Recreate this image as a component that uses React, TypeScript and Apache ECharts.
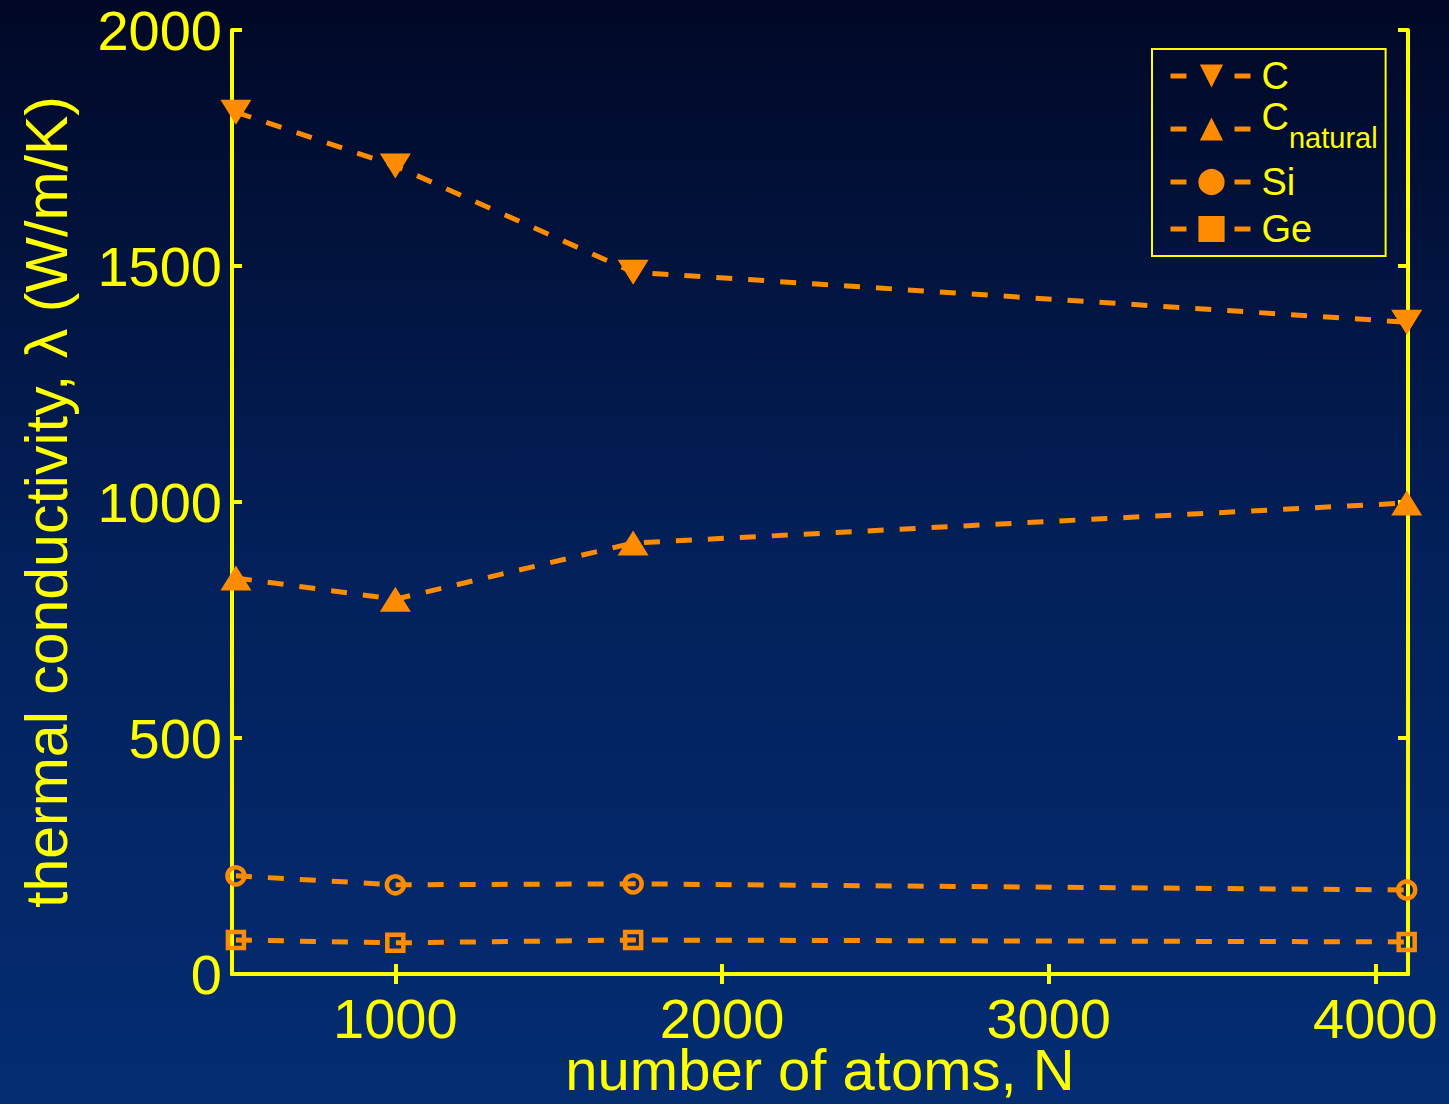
import React, { useEffect, useRef } from "react";
import * as echarts from "echarts";

const atoms = [512, 1000, 1728, 4096];
const cValues = [1826, 1712, 1487, 1381];
const cNaturalValues = [839, 794, 913, 998];
const siValues = [208, 189, 191, 178];
const geValues = [72, 66, 72, 68];
const xTicks = [1000, 2000, 3000, 4000];

const YELLOW = "#ffff00";
const ORANGE = "#ff8c00";
const FONT = "Liberation Sans, Arial, Helvetica, sans-serif";

export default function App() {
  const ref = useRef<HTMLDivElement>(null);
  useEffect(() => {
    if (!ref.current) return;
    const chart = echarts.init(ref.current, null, { renderer: "svg" });
    const mk = (name: string, data: number[], symbol: string, size: number | number[], filled: boolean) => ({
      name,
      type: "line",
      data: atoms.map((a, i) => [a, data[i]]),
      symbol,
      symbolSize: size,
      showAllSymbol: true,
      lineStyle: { color: ORANGE, width: 5, type: [16, 16] },
      itemStyle: {
        color: filled ? ORANGE : "rgba(0,0,0,0)",
        borderColor: ORANGE,
        borderWidth: filled ? 0 : 4.5,
      },
      z: 3,
    });
    const tickSet = new Set(xTicks);
    const axisCommon = {
      axisLine: { show: true, lineStyle: { color: YELLOW, width: 4 } },
      axisTick: { show: true, inside: true, length: 10, lineStyle: { color: YELLOW, width: 4 } },
      splitLine: { show: false },
    };
    chart.setOption({
      animation: false,
      backgroundColor: new echarts.graphic.LinearGradient(0, 0, 0, 1, [
        { offset: 0, color: "#010826" },
        { offset: 0.5, color: "#03205a" },
        { offset: 1, color: "#042d73" },
      ]),
      textStyle: { fontFamily: FONT },
      grid: { left: 232, right: 41, top: 30, bottom: 130, containLabel: false, outerBoundsMode: "none" },
      legend: {
        orient: "vertical",
        left: 1152,
        top: 49,
        borderColor: YELLOW,
        borderWidth: 2,
        padding: [7, 8, 0, 16],
        itemWidth: 82,
        itemHeight: 29,
        itemGap: 0,
        data: [
          { name: "C", textStyle: { lineHeight: 40 } },
          { name: "C_natural" },
          { name: "Si", itemStyle: { color: ORANGE, borderWidth: 3 }, textStyle: { lineHeight: 40 } },
          { name: "Ge", itemStyle: { color: ORANGE, borderWidth: 3 }, textStyle: { lineHeight: 54 } },
        ],
        lineStyle: { width: 5, type: [16, 48] },
        textStyle: {
          color: YELLOW,
          fontSize: 38,
          lineHeight: 40,
          fontFamily: FONT,
          padding: [0, 0, 0, 4],
          rich: {
            main: { fontSize: 38, color: YELLOW, fontFamily: FONT, verticalAlign: "top", lineHeight: 20, padding: [2, 0, 0, 0] },
            sub: { fontSize: 29, color: YELLOW, fontFamily: FONT, verticalAlign: "top", lineHeight: 20, padding: [27, 0, 0, 0] },
            sp: { fontSize: 1, lineHeight: 66, width: 0 },
          },
        },
        formatter: (n: string) => (n === "C_natural" ? "{sp| }{main|C}{sub|natural}" : n),
      },
      xAxis: [
        {
          type: "value",
          min: 500,
          max: 4100,
          position: "bottom",
          ...axisCommon,
          axisTick: { ...axisCommon.axisTick, customValues: xTicks },
          axisLabel: {
            color: YELLOW,
            fontSize: 56,
            lineHeight: 44,
            fontFamily: FONT,
            margin: 22,
            customValues: xTicks,
            formatter: (v: number) => (tickSet.has(v) ? String(v) : ""),
          },
          name: "number of atoms, N",
          nameLocation: "middle",
          nameGap: 72,
          nameMoveOverlap: false,
          nameTextStyle: { color: YELLOW, fontSize: 58, lineHeight: 46, fontFamily: FONT },
        },
        {
          type: "value",
          min: 500,
          max: 4100,
          position: "top",
          ...axisCommon,
          axisTick: { ...axisCommon.axisTick, customValues: xTicks },
          axisLabel: { show: false },
        },
      ],
      yAxis: [
        {
          type: "value",
          min: 0,
          max: 2000,
          interval: 500,
          position: "left",
          ...axisCommon,
          axisLabel: {
            color: YELLOW,
            fontSize: 56,
            fontFamily: FONT,
            margin: 10,
            formatter: (v: number) => String(v),
          },
          name: "thermal conductivity, λ (W/m/K)",
          nameLocation: "middle",
          nameGap: 156,
          nameMoveOverlap: false,
          nameTextStyle: { color: YELLOW, fontSize: 59, fontFamily: FONT },
        },
        {
          type: "value",
          min: 0,
          max: 2000,
          interval: 500,
          position: "right",
          ...axisCommon,
          axisLabel: { show: false },
        },
      ],
      series: [
        mk("C", cValues, "path://M0,0 L10,0 L5,8 Z", [31, 25], true),
        mk("C_natural", cNaturalValues, "triangle", [31, 25], true),
        mk("Si", siValues, "circle", 17, false),
        mk("Ge", geValues, "rect", 16, false),
      ],
    });
    return () => chart.dispose();
  }, []);
  return <div ref={ref} style={{ width: 1449, height: 1104, position: "fixed", left: 0, top: 0 }} />;
}
